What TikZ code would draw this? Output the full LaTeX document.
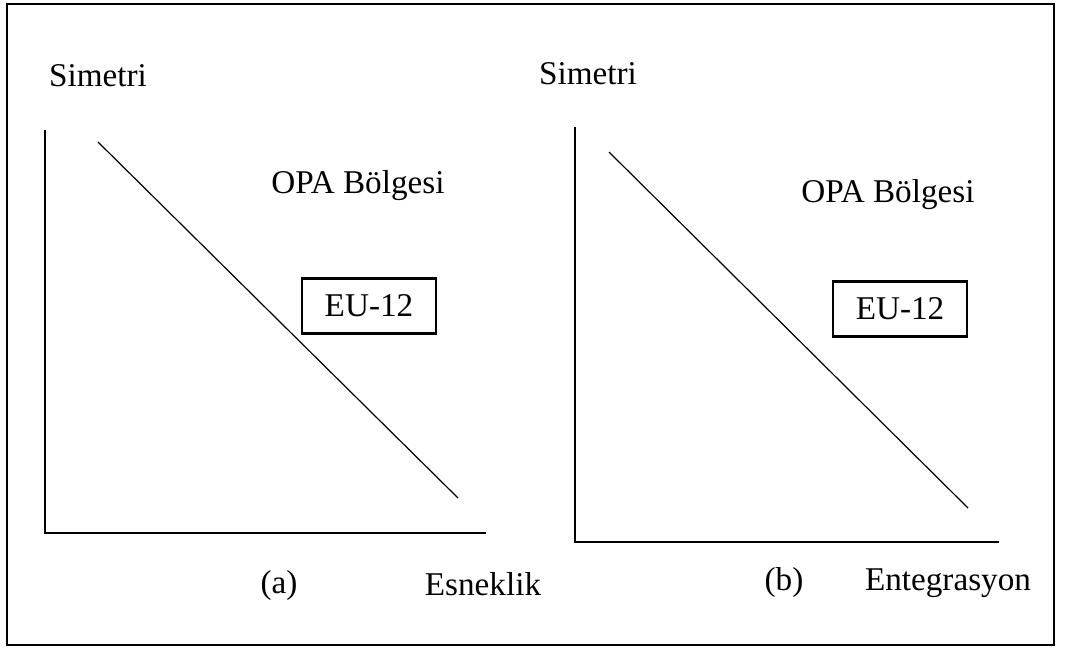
\documentclass[tikz,border=0pt]{standalone}
\usepackage{fontspec}
\setmainfont{Liberation Serif}
\begin{document}
\begin{tikzpicture}[x=0.5pt, y=-0.5pt]
        \tikzstyle{every node}=[font=\fontsize{16.6}{20}\selectfont, inner sep=0pt]
        \tikzstyle{axis}=[line width=1.4pt]
        \tikzstyle{frontier}=[line width=0.6pt]
        \tikzstyle{eubox}=[draw, line width=1.2pt, minimum width=67pt, minimum height=27.5pt]
        \useasboundingbox (0,0) rectangle (1076,648);

        % outer frame
        \draw [line width=1.2pt] (7,4) rectangle (1054,645);

        % panel (a)
        \coordinate (ya) at (45,130);
        \coordinate (oa) at (45,533);
        \coordinate (xa) at (486,533);
        \coordinate (fa1) at (98,142);
        \coordinate (fa2) at (458,498);
        \path (98,76) node (syma) {Simetri};
        \path (358,186) node (opaa) {OPA Bölgesi};
        \path (369,306) node [eubox] (eua) {EU-12};
        \path (279,586) node (laba) {(a)};
        \path (483,584) node (xlaba) {Esneklik};

        % panel (b)
        \coordinate (yb) at (575,127);
        \coordinate (ob) at (575,542);
        \coordinate (xb) at (999,542);
        \coordinate (fb1) at (609,152);
        \coordinate (fb2) at (968,508);
        \path (588,74) node (symb) {Simetri};
        \path (888,195) node (opab) {OPA Bölgesi};
        \path (900,309) node [eubox] (eub) {EU-12};
        \path (784,583) node (labb) {(b)};
        \path (948,583) node (xlabb) {Entegrasyon};

        \draw [axis]
          (ya) -- (oa) -- (xa)
          (yb) -- (ob) -- (xb);

        \draw [frontier]
          (fa1) -- (fa2)
          (fb1) -- (fb2);
\end{tikzpicture}
\end{document}
